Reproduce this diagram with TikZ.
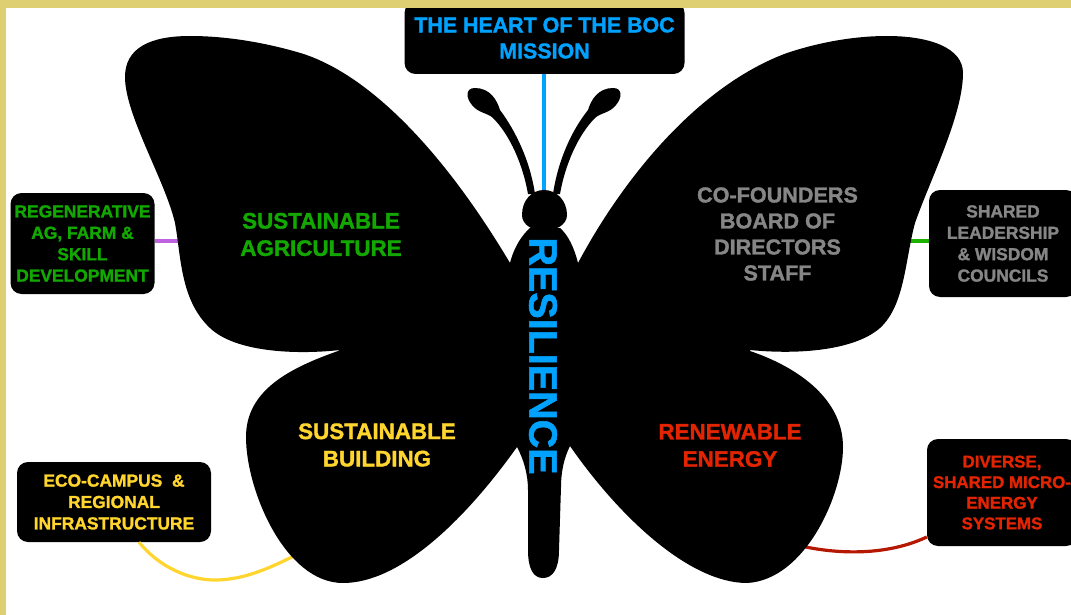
\documentclass[tikz,border=0pt]{standalone}
\usepackage{fontspec}
\setmainfont{Liberation Sans}
\newfontface\heavy{Liberation Sans Bold}[FakeBold=1.5]
\definecolor{barc}{HTML}{DDCF72}
\definecolor{bluec}{HTML}{00A2FF}
\definecolor{greenc}{HTML}{12A800}
\definecolor{linkgreen}{HTML}{1DB100}
\definecolor{purplec}{HTML}{BF62E2}
\definecolor{yellowc}{HTML}{FFD52E}
\definecolor{redc}{HTML}{E32400}
\definecolor{linkred}{HTML}{B51700}
\definecolor{greyc}{HTML}{868686}
\tikzset{
  box/.style={fill=black,rounded corners=11pt,inner sep=0pt,align=center,font=\heavy\fontsize{17.4}{21.4}\selectfont},
  wingtext/.style={inner sep=0pt,align=center,font=\heavy\fontsize{22.4}{27.3}\selectfont},
  link/.style={line width=3.2pt},
}
\begin{document}
\begin{tikzpicture}[x=1pt,y=-1pt]
\useasboundingbox (0,0) rectangle (1071,615);
\fill[white] (0,0) rectangle (1071,615);
% boxes
\node[box,text=bluec,minimum width=280pt,minimum height=72pt,font=\heavy\fontsize{21.4}{26}\selectfont] (mission) at (544.5,38) {THE HEART OF THE BOC\\MISSION};
\node[box,text=greenc,minimum width=144pt,minimum height=101pt] (regen) at (82.5,243.5) {REGENERATIVE\\AG, FARM \&\\SKILL\\DEVELOPMENT};
\node[box,text=greyc,minimum width=148pt,minimum height=107pt] (shared) at (1003,243.5) {SHARED\\LEADERSHIP\\\& WISDOM\\COUNCILS};
\node[box,text=yellowc,minimum width=194pt,minimum height=80pt] (eco) at (114,502) {ECO-CAMPUS~~\&\\REGIONAL\\INFRASTRUCTURE};
\node[box,text=redc,minimum width=150pt,minimum height=107pt,font=\heavy\fontsize{16.9}{20.6}\selectfont] (micro) at (1002,492.5) {DIVERSE,\\SHARED MICRO-\\ENERGY\\SYSTEMS};
% connector ends on the butterfly
\coordinate (heart) at (544,192);
\coordinate (wingUL) at (185,241);
\coordinate (wingUR) at (905,241);
\coordinate (wingLL) at (300,553);
\coordinate (wingLR) at (797,545);
% connectors
\draw[link,bluec] (mission.south -| heart) -- (heart);
\draw[link,purplec] (regen.east |- wingUL) -- (wingUL);
\draw[link,linkgreen] (shared.west |- wingUR) -- (wingUR);
\draw[link,yellowc] ([xshift=25pt]eco.south) .. controls (160,568) and (190,580) .. (215,580) .. controls (245,580) and (272,567) .. (wingLL);
\draw[link,linkred] (wingLR) .. controls (825,552) and (880,559) .. ([yshift=-44.5pt]micro.west);
% butterfly
\fill[black] (510,263)
  .. controls (438,142) and (362,70) .. (297,52)
  .. controls (262,42) and (225,36) .. (190,36)
  .. controls (150,36) and (125,48) .. (125,77)
  .. controls (125,115) and (165,180) .. (175,223)
  .. controls (181,255) and (180,300) .. (210,328)
  .. controls (235,352) and (295,355) .. (340,350)
  -- (338,351)
  .. controls (290,368) and (246,390) .. (246,437)
  .. controls (246,490) and (285,583) .. (343,583)
  .. controls (400,583) and (465,520) .. (517,447)
  .. controls (524,460) and (528,475) .. (528,490)
  -- (528,550)
  .. controls (528,570) and (534,578) .. (543,578)
  .. controls (552,578) and (559,570) .. (559,550)
  -- (561,487)
  .. controls (561,472) and (564,458) .. (570,446)
  .. controls (620,518) and (690,583) .. (747,583)
  .. controls (805,580) and (843,495) .. (843,447)
  .. controls (843,400) and (800,368) .. (750,351)
  -- (750,350)
  .. controls (800,355) and (855,350) .. (880,328)
  .. controls (905,305) and (905,260) .. (915,223)
  .. controls (930,180) and (963,115) .. (963,73)
  .. controls (963,48) and (930,36) .. (887,36)
  .. controls (855,36) and (820,42) .. (787,53)
  .. controls (700,85) and (625,175) .. (578,263)
  -- cycle;
% body top and head
\fill[black] (510,263) .. controls (514,247) and (522,235) .. (530,228) -- (560,228) .. controls (568,235) and (574,247) .. (578,263) -- (578,300) -- (510,300) -- cycle;
\fill[black] (544,190) .. controls (556,190) and (567,200) .. (567,215) .. controls (567,225) and (555,231) .. (544,231) .. controls (533,231) and (522,225) .. (522,215) .. controls (522,200) and (532,190) .. (544,190) -- cycle;
% antennae
\fill[black] (535,194) .. controls (530,160) and (515,130) .. (500,110) .. controls (497,100) and (490,88) .. (475,88) .. controls (465,88) and (466,98) .. (472,105) .. controls (478,113) and (488,113) .. (493,118) .. controls (510,135) and (523,165) .. (528,194) -- cycle;
\fill[black] (553,194) .. controls (558,160) and (572,130) .. (588,110) .. controls (591,100) and (598,88) .. (613,88) .. controls (623,88) and (622,98) .. (616,105) .. controls (610,113) and (600,113) .. (595,118) .. controls (578,135) and (565,165) .. (560,194) -- cycle;
% wing and body texts
\node[wingtext,text=greenc] (agri) at (321,234.5) {SUSTAINABLE\\AGRICULTURE};
\node[wingtext,text=greyc,font=\heavy\fontsize{21.6}{26}\selectfont] (founders) at (777.5,234) {CO-FOUNDERS\\BOARD OF\\DIRECTORS\\STAFF};
\node[wingtext,text=yellowc] (build) at (377,445) {SUSTAINABLE\\BUILDING};
\node[wingtext,text=redc] (energy) at (730,445.5) {RENEWABLE\\ENERGY};
\node[inner sep=0pt,rotate=-90,text=bluec,font=\heavy\fontsize{39.5}{44}\selectfont] (res) at (543,356) {RESILIENCE};
% frame
\fill[barc] (0,0) rectangle (1071,8);
\fill[barc] (0,0) rectangle (6,615);
\end{tikzpicture}
\end{document}
